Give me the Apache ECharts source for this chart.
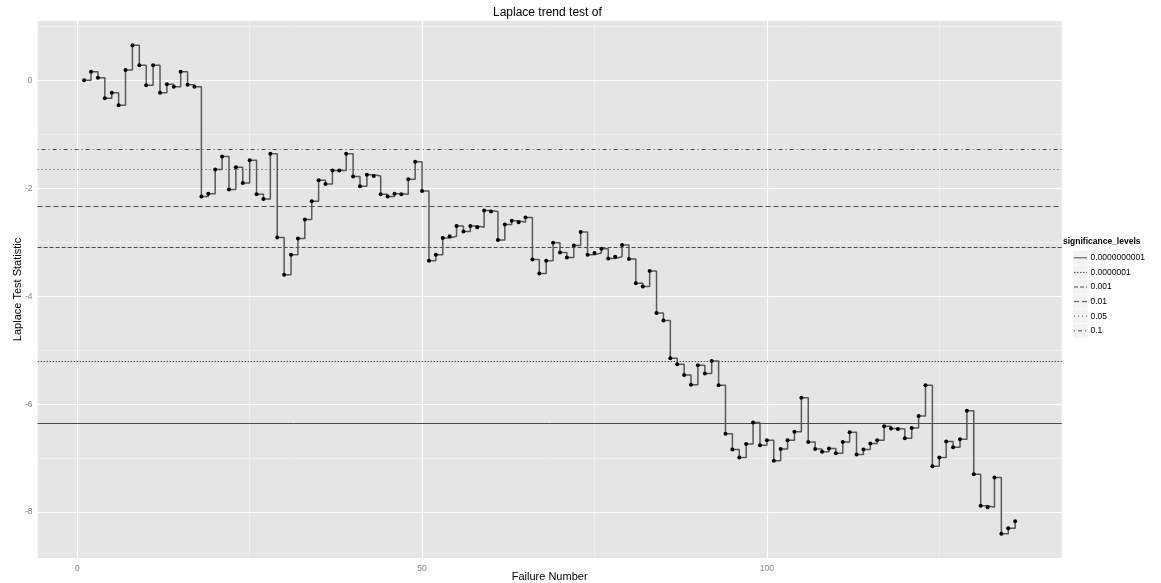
<!DOCTYPE html>
<html>
<head>
<meta charset="utf-8">
<script src="https://cdn.jsdelivr.net/npm/echarts@6/dist/echarts.min.js"></script>
<style>
  html, body { margin: 0; padding: 0; background: #ffffff; }
  #chart { width: 1161px; height: 583px; }
</style>
</head>
<body>
<div id="chart"></div>
<script>
// Laplace trend statistic after each failure (failure 1 .. 136)
const laplaceStat = [
   0.00,  0.16,  0.05, -0.33, -0.23, -0.46,  0.19,  0.65,  0.28, -0.09,
   0.28, -0.23, -0.07, -0.12,  0.16, -0.08, -0.12, -2.15, -2.10, -1.65,
  -1.41, -2.02, -1.61, -1.90, -1.48, -2.11, -2.20, -1.36, -2.91, -3.60,
  -3.23, -2.93, -2.58, -2.24, -1.85, -1.92, -1.67, -1.67, -1.36, -1.78,
  -1.96, -1.75, -1.77, -2.11, -2.15, -2.10, -2.11, -1.83, -1.51, -2.05,
  -3.34, -3.23, -2.92, -2.89, -2.70, -2.80, -2.70, -2.72, -2.41, -2.43,
  -2.96, -2.67, -2.60, -2.63, -2.54, -3.32, -3.58, -3.34, -3.01, -3.19,
  -3.28, -3.06, -2.81, -3.23, -3.20, -3.12, -3.30, -3.27, -3.05, -3.31,
  -3.76, -3.82, -3.53, -4.31, -4.45, -5.15, -5.26, -5.46, -5.64, -5.28,
  -5.43, -5.20, -5.65, -6.55, -6.84, -6.99, -6.74, -6.34, -6.76, -6.67,
  -7.05, -6.83, -6.67, -6.51, -5.88, -6.70, -6.83, -6.88, -6.82, -6.91,
  -6.70, -6.52, -6.93, -6.84, -6.73, -6.67, -6.41, -6.45, -6.46, -6.63,
  -6.44, -6.22, -5.65, -7.15, -6.99, -6.69, -6.80, -6.65, -6.12, -7.30,
  -7.88, -7.91, -7.36, -8.40, -8.30, -8.17
];
const failureNumber = laplaceStat.map((_, i) => i + 1);

// significance levels and their critical values (normal quantiles)
const sigLevels   = ['0.0000000001', '0.0000001', '0.001', '0.01', '0.05', '0.1'];
const sigCritical = [-6.361, -5.199, -3.090, -2.326, -1.645, -1.282];

// tick positions
const xMajorTicks = [0, 50, 100];
const xMinorTicks = [25, 75, 125];
const yMajorTicks = [0, -2, -4, -6, -8];
const yMinorTicks = [1, -1, -3, -5, -7];

// line dash pattern for each significance level, same order as sigLevels
const sigDash = ['solid', [1.5, 1.5], [4, 2], [5, 3], [1, 3], [1, 3, 4, 3]];

const FONT = 'Liberation Sans, Arial, sans-serif';
const refColor = '#4a4a4a';

const stepData = failureNumber.map((n, i) => [n, laplaceStat[i]]);

function gridLines(values, axisKey, color, width) {
  return values.map(v => ({ [axisKey]: v, lineStyle: { color: color, width: width, type: 'solid' } }));
}

const series = [
  {
    // panel grid lines
    type: 'line',
    data: [],
    silent: true,
    z: 1,
    markLine: {
      z: 1,
      silent: true,
      animation: false,
      symbol: ['none', 'none'],
      label: { show: false },
      emphasis: { disabled: true },
      data: [].concat(
        gridLines(xMinorTicks, 'xAxis', '#f2f2f2', 0.8),
        gridLines(yMinorTicks, 'yAxis', '#f2f2f2', 0.8),
        gridLines(xMajorTicks, 'xAxis', '#ffffff', 1.2),
        gridLines(yMajorTicks, 'yAxis', '#ffffff', 1.2)
      )
    }
  }
];

sigLevels.forEach((lvl, i) => {
  series.push({
    name: lvl,
    type: 'line',
    data: [],
    silent: true,
    z: 2,
    markLine: {
      z: 2,
      silent: true,
      animation: false,
      symbol: ['none', 'none'],
      label: { show: false },
      emphasis: { disabled: true },
      lineStyle: { color: refColor, width: 1, type: sigDash[i] },
      data: [{ yAxis: sigCritical[i] }]
    }
  });
});

series.push({
  name: 'Laplace',
  type: 'line',
  step: 'end',
  data: stepData,
  z: 10,
  symbol: 'circle',
  symbolSize: 4,
  showSymbol: true,
  itemStyle: { color: '#000000' },
  lineStyle: { color: '#585858', width: 1.5 },
  animation: false
});

// legend drawn as graphic elements
const legendX = 1063;
const legendKeyY0 = 250.5;
const legendKeyH = 14.6;
const legendChildren = [
  {
    type: 'text',
    left: legendX, top: 237,
    style: { text: 'significance_levels', font: 'bold 8.5px ' + FONT, fill: '#000' }
  }
];
sigLevels.forEach((lvl, i) => {
  const y = legendKeyY0 + i * legendKeyH;
  legendChildren.push({
    type: 'rect',
    shape: { x: legendX + 10, y: y, width: 15, height: legendKeyH },
    style: { fill: '#f2f2f2', stroke: '#ffffff', lineWidth: 0.5 }
  });
  legendChildren.push({
    type: 'line',
    shape: { x1: legendX + 11, y1: y + legendKeyH / 2, x2: legendX + 24, y2: y + legendKeyH / 2 },
    style: {
      stroke: refColor, lineWidth: 1,
      lineDash: Array.isArray(sigDash[i]) ? sigDash[i] : null
    }
  });
  legendChildren.push({
    type: 'text',
    x: legendX + 27.5, y: y + legendKeyH / 2,
    style: { text: lvl, font: '8.5px ' + FONT, fill: '#000', textVerticalAlign: 'middle', verticalAlign: 'middle' }
  });
});

const option = {
  backgroundColor: '#ffffff',
  animation: false,
  textStyle: { fontFamily: FONT },
  title: {
    text: 'Laplace trend test of',
    left: 493, top: 7, padding: 0,
    textStyle: { fontSize: 12, fontWeight: 'normal', color: '#000', fontFamily: FONT }
  },
  grid: {
    left: 37.6, right: 99.3, top: 21, bottom: 25,
    show: true, backgroundColor: '#e5e5e5', borderWidth: 0,
    outerBoundsMode: 'none'
  },
  xAxis: {
    type: 'value',
    min: -5.75, max: 142.75,
    name: 'Failure Number',
    nameLocation: 'middle',
    nameGap: 13,
    nameMoveOverlap: false,
    nameTextStyle: { color: '#000', fontSize: 11, fontFamily: FONT, verticalAlign: 'top' },
    axisLine: { show: false },
    axisTick: { show: true, length: 4, customValues: xMajorTicks, lineStyle: { color: '#7f7f7f' } },
    axisLabel: { customValues: xMajorTicks, color: '#7f7f7f', fontSize: 8.5, margin: 6, fontFamily: FONT },
    splitLine: { show: false },
    minorSplitLine: { show: false }
  },
  yAxis: {
    type: 'value',
    min: -8.85, max: 1.1,
    name: 'Laplace Test Statistic',
    nameLocation: 'middle',
    nameGap: 14,
    nameMoveOverlap: false,
    nameTextStyle: { color: '#000', fontSize: 11, fontFamily: FONT, verticalAlign: 'bottom' },
    axisLine: { show: false },
    axisTick: { show: true, length: 4, customValues: yMajorTicks, lineStyle: { color: '#7f7f7f' } },
    axisLabel: { customValues: yMajorTicks, color: '#7f7f7f', fontSize: 8.5, margin: 5, fontFamily: FONT },
    splitLine: { show: false }
  },
  legend: { show: false },
  tooltip: { show: false },
  graphic: [{ type: 'group', children: legendChildren }],
  series: series
};

const chart = echarts.init(document.getElementById('chart'), null, { renderer: 'canvas' });
chart.setOption(option);
</script>
</body>
</html>
